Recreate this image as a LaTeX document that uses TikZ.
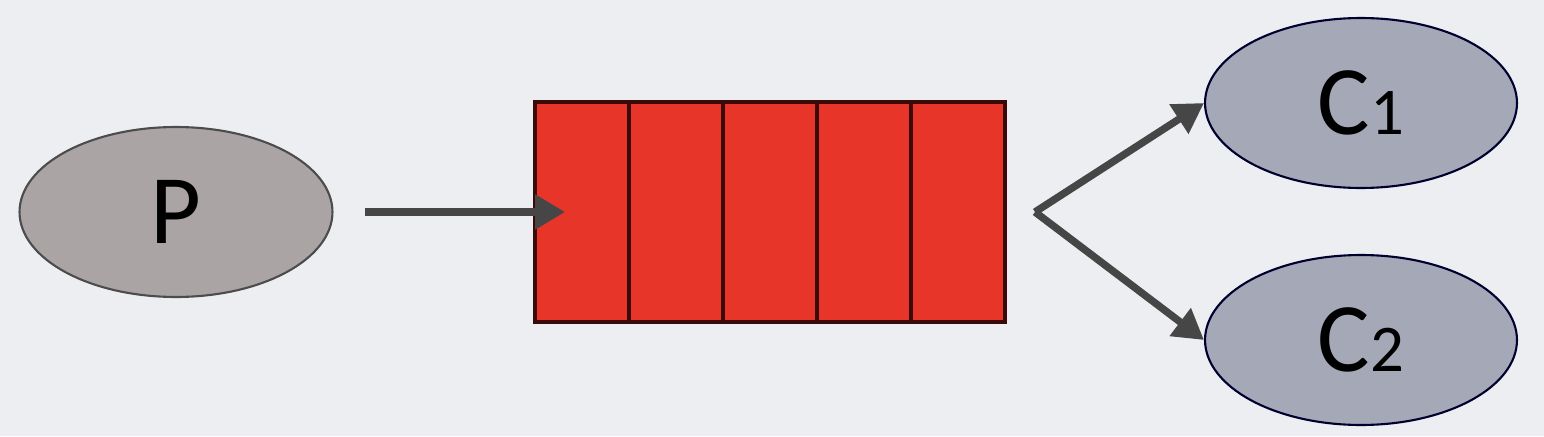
\documentclass[tikz,border=0pt]{standalone}
\usepackage{fontspec}
\setmainfont{Carlito}
\usetikzlibrary{positioning,shapes.geometric,arrows.meta}

\definecolor{bgcol}{HTML}{ECEEF1}
\definecolor{prodcol}{HTML}{ABA4A4}
\definecolor{conscol}{HTML}{A5A9B7}
\definecolor{qred}{HTML}{E8352A}
\definecolor{qedge}{HTML}{3A0A08}
\definecolor{arrcol}{HTML}{464646}

\tikzset{
    prod/.style={ellipse,draw=black!70,line width=1.2pt,fill=prodcol,
        minimum width=6.26cm,minimum height=3.4cm,inner sep=0pt,
        font=\fontsize{56}{66}\selectfont},
    cons/.style={ellipse,draw=black!70!blue!60!black,line width=1.2pt,fill=conscol,
        minimum width=6.24cm,minimum height=3.4cm,inner sep=0pt,
        font=\fontsize{56}{66}\selectfont},
    cell/.style={rectangle,draw=qedge,line width=2.2pt,fill=qred,
        minimum width=1.88cm,minimum height=4.4cm,inner sep=0pt,outer sep=0pt},
    flow/.style={draw=arrcol,line width=4.2pt,
        -{Triangle[length=17pt,width=19pt]}}
}
\newcommand{\sm}[1]{{\fontsize{38}{44}\selectfont #1}}

\begin{document}
\begin{tikzpicture}[x=0.02cm,y=-0.02cm]
    \useasboundingbox[fill=bgcol] (0,0) rectangle (1544,436);

    \node[prod] (P) at (176,212) {P};
    \node[cons] (C1) at (1361,103) {C\sm{1}};
    \node[cons] (C2) at (1361,340) {C\sm{2}};

    % queue
    \node[cell] (q1) at (582,212) {};
    \foreach \i [remember=\i as \j (initially 1)] in {2,...,5}
        \node[cell,right=0pt of q\j] (q\i) {};

    \coordinate (pout) at (365,212);
    \coordinate (qin) at (565,212);
    \coordinate (fork) at (1035,212);

    \draw[flow] (pout) -- (qin);
    \draw[flow] (fork) -- (C1.west);
    \draw[flow] (fork) -- (C2.west);
\end{tikzpicture}
\end{document}
